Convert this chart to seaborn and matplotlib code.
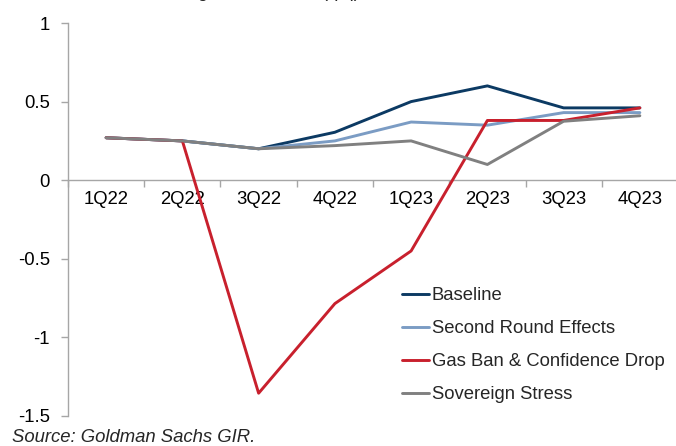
import matplotlib
matplotlib.use("Agg")
import matplotlib.pyplot as plt
import seaborn as sns
import pandas as pd
import numpy as np
from matplotlib.ticker import FixedLocator, NullFormatter, FuncFormatter

quarters = ["1Q22", "2Q22", "3Q22", "4Q22", "1Q23", "2Q23", "3Q23", "4Q23"]
baseline = [0.27, 0.25, 0.20, 0.305, 0.50, 0.60, 0.46, 0.46]
second_round = [0.27, 0.25, 0.20, 0.25, 0.37, 0.35, 0.43, 0.43]
gas_ban = [0.27, 0.25, -1.355, -0.785, -0.45, 0.38, 0.38, 0.46]
sovereign = [0.27, 0.25, 0.20, 0.22, 0.25, 0.10, 0.375, 0.41]
series_names = ["Baseline", "Second Round Effects", "Gas Ban & Confidence Drop", "Sovereign Stress"]
colors = ["#0c3a63", "#7b9cc4", "#c8202d", "#808080"]
yticks = [1, 0.5, 0, -0.5, -1, -1.5]
title_text = "Real GDP growth rate, % (q/q)"
source_text = "Source: Goldman Sachs GIR."

sns.set_style("white")
plt.rcParams["font.family"] = ["Liberation Sans", "DejaVu Sans"]
plt.rcParams["axes.unicode_minus"] = False

rows = []
for name, vals in zip(series_names, [baseline, second_round, gas_ban, sovereign]):
    for i, v in enumerate(vals):
        rows.append({"x": i, "value": v, "series": name})
df = pd.DataFrame(rows)

FS = 13.3
fig = plt.figure(figsize=(6.76, 4.46), dpi=100)
W, H = 676, 446
left, right, top, bottom = 68, 678, 23, 416
ax = fig.add_axes([left / W, 1 - bottom / H, (right - left) / W, (bottom - top) / H])

sns.lineplot(data=df, x="x", y="value", hue="series", hue_order=series_names,
             palette=colors, linewidth=2.1, ax=ax, legend=True, zorder=3)

ax.set_xlim(-0.5, 7.5)
ax.set_ylim(-1.5, 1.0)
ax.set_xlabel("")
ax.set_ylabel("")

for s in ["top", "right"]:
    ax.spines[s].set_visible(False)
ax.spines["bottom"].set_position(("data", 0))
ax.spines["bottom"].set_color("#a6a6a6")
ax.spines["left"].set_color("#a6a6a6")
ax.spines["bottom"].set_linewidth(1.0)
ax.spines["left"].set_linewidth(1.0)
ax.spines["bottom"].set_zorder(1)

ax.xaxis.set_major_locator(FixedLocator(np.arange(-0.5, 8.0, 1.0)))
ax.xaxis.set_major_formatter(NullFormatter())
ax.set_xticks(np.arange(0, 8), minor=True)
ax.set_xticklabels(quarters, minor=True)
ax.tick_params(axis="x", which="major", direction="out", length=5, width=1, color="#a6a6a6", bottom=True)
ax.tick_params(axis="x", which="minor", length=0, pad=8, labelsize=FS, labelcolor="black", bottom=True)

ax.set_yticks(yticks)
ax.yaxis.set_major_formatter(FuncFormatter(lambda v, p: f"{v:g}"))
ax.tick_params(axis="y", direction="out", length=5, width=1, color="#a6a6a6", pad=8,
               labelsize=FS, labelcolor="black", left=True)

leg = ax.legend(loc="upper left", bbox_to_anchor=((402 - left) / (right - left), (bottom - 287.5) / (bottom - top)),
                frameon=False, fontsize=FS, handlelength=1.45, handletextpad=0.15,
                labelspacing=0.86, borderpad=0, borderaxespad=0)
for line in leg.get_lines():
    line.set_linewidth(2.1)

fig.text(110 / W, 1 + 2.5 / H, title_text, fontsize=FS, ha="left", va="baseline")
fig.text(12 / W, 1 - 437 / H, source_text, fontsize=FS, style="italic", ha="left", va="center")

fig.savefig("out.png", dpi=100)
